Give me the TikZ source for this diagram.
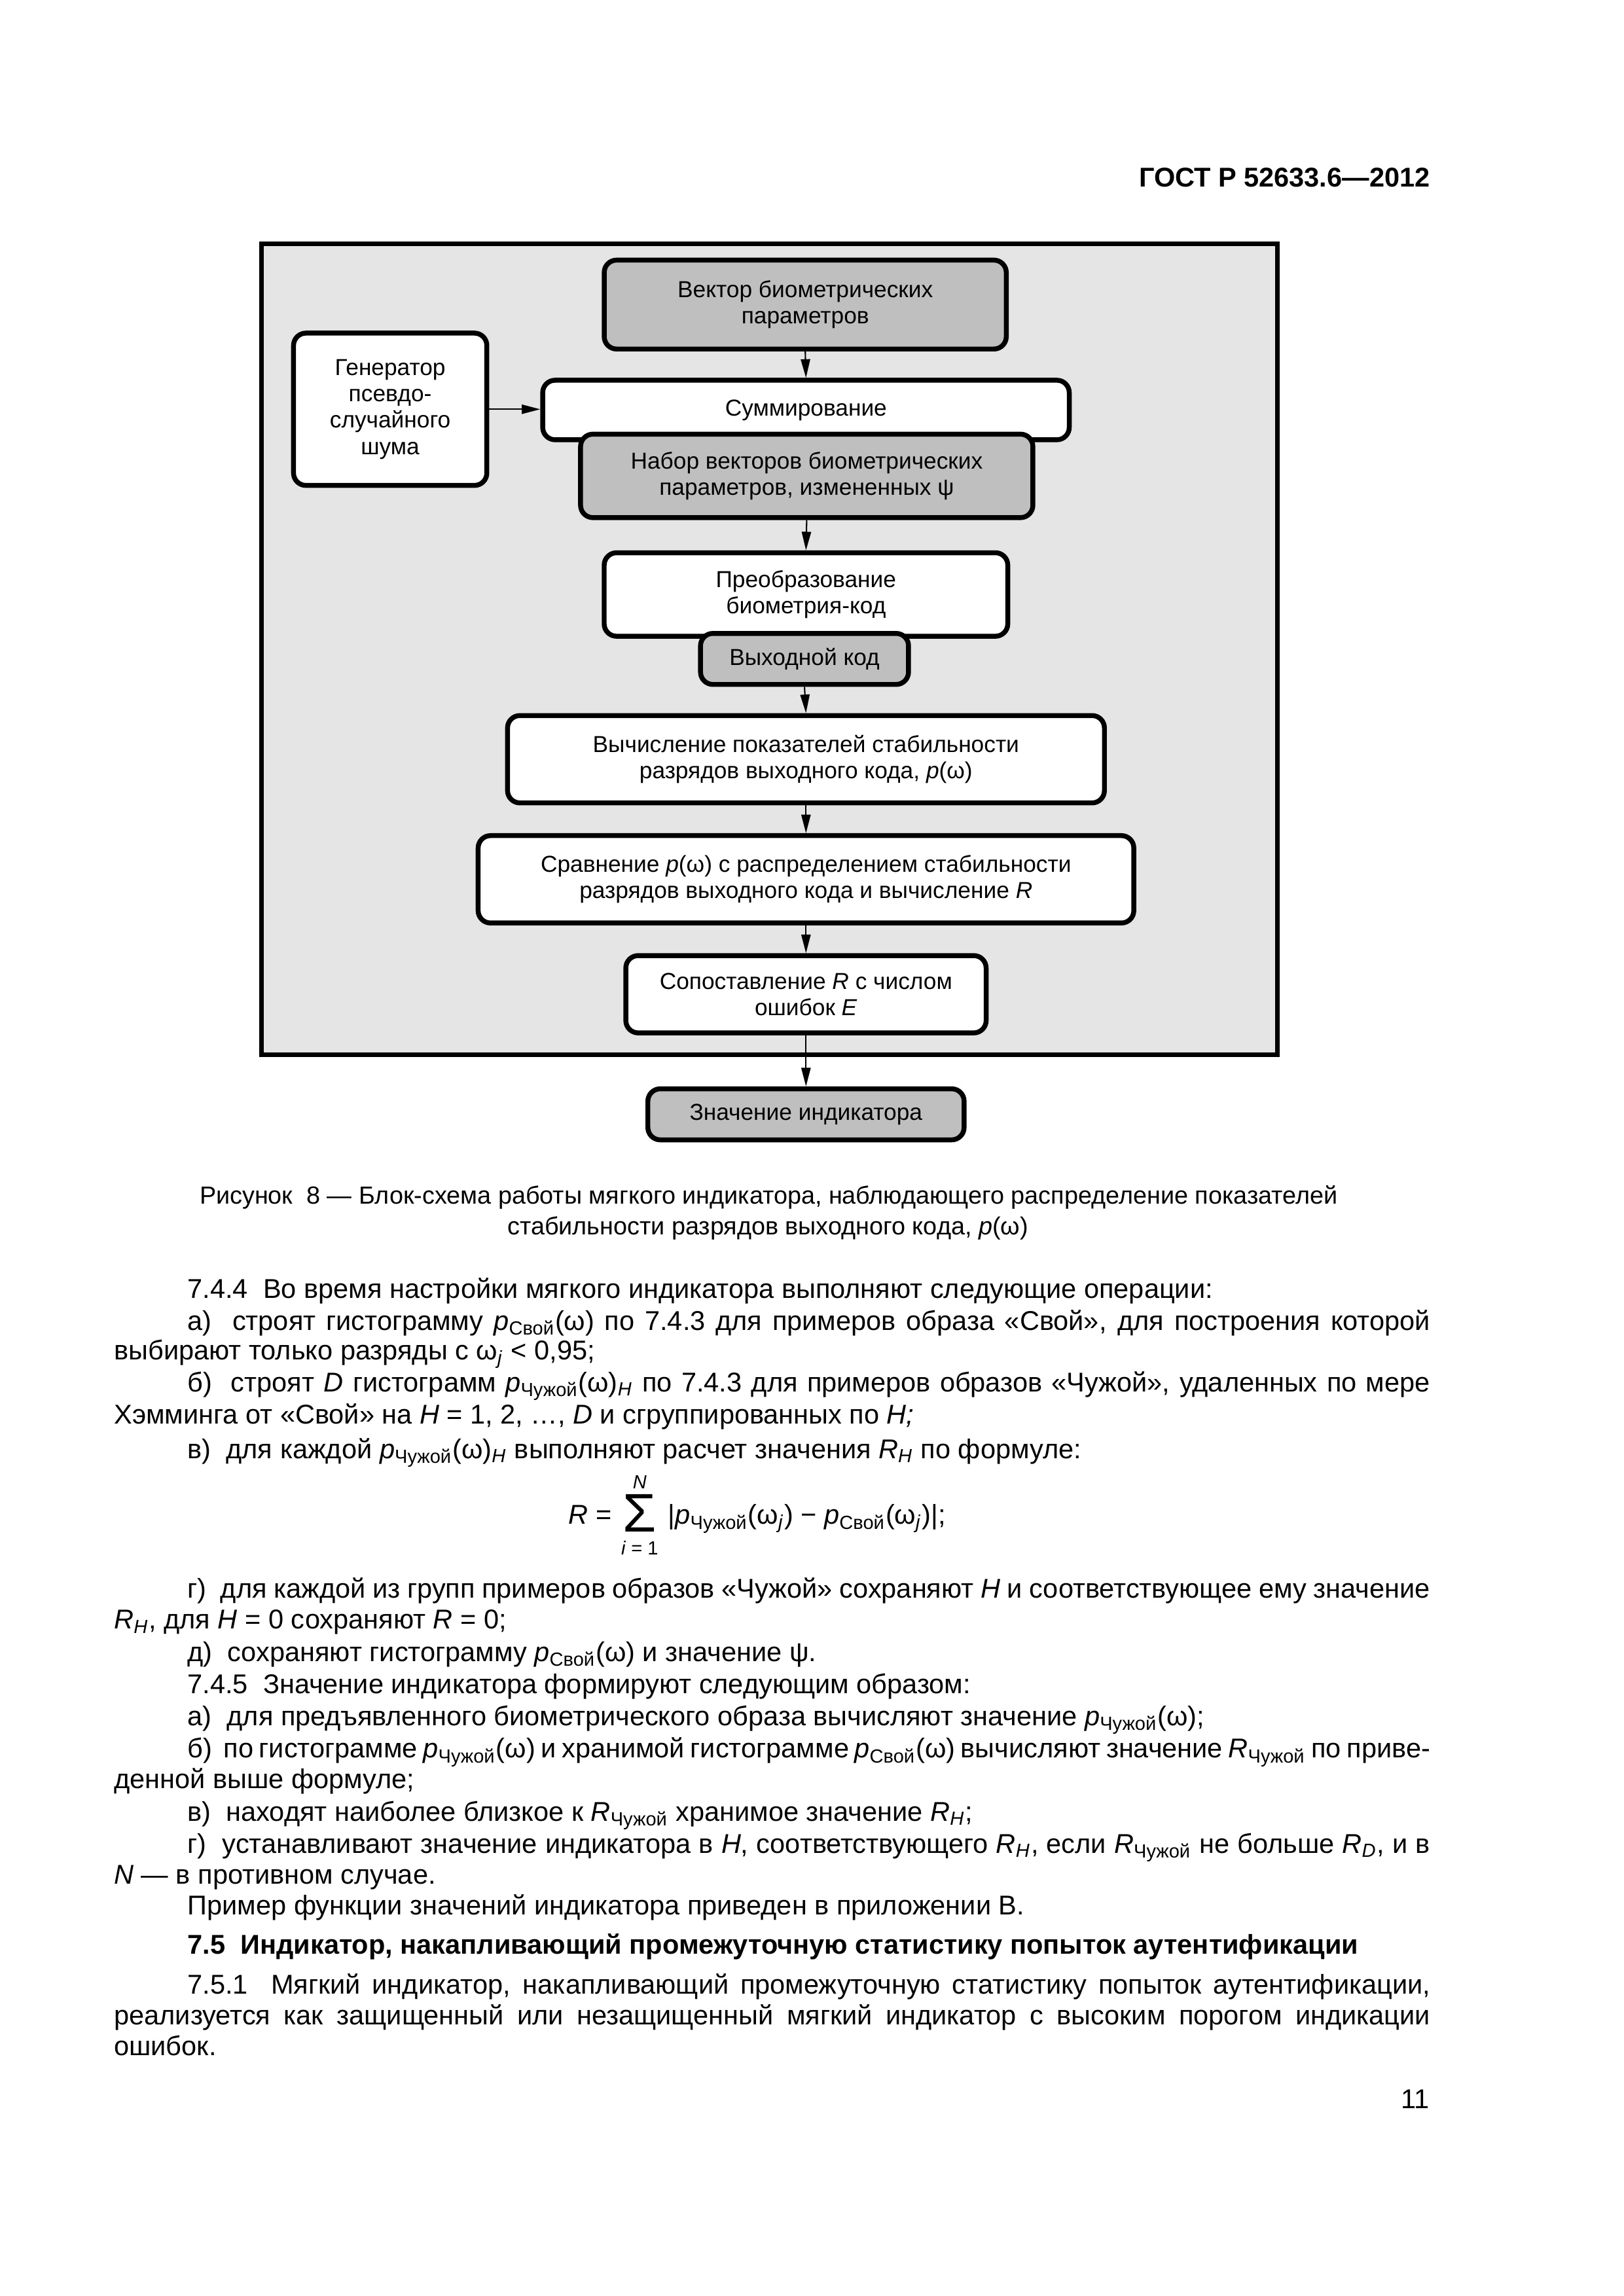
\documentclass[tikz,border=0pt]{standalone}
\usepackage{amsmath}
\usepackage{fontspec}
\setmainfont{Liberation Sans}
\usetikzlibrary{arrows.meta}

\newcommand{\pw}[1]{\textit{p}\textsubscript{#1}}
\newcommand{\Rw}[1]{\textit{R}\textsubscript{#1}}

\begin{document}
\begin{tikzpicture}[x=0.18936mm,y=0.18941mm]
            \tikzstyle{every node}+=[inner sep=0pt]
            \tikzstyle{blk}=[draw=black,line width=1.8pt,rounded corners=1.6mm,fill=white,align=center,font=\fontsize{8.5}{9.7}\selectfont]
            \tikzstyle{gblk}=[blk,fill=black!25]
            \tikzstyle{arr}=[black,line width=0.5pt,-{Triangle[length=2.4mm,width=1.2mm]}]
            \tikzstyle{txt}=[anchor=base west,font=\fontsize{10}{11.5}\selectfont]
            \tikzstyle{lim}=[anchor=base,font=\fontsize{7}{8}\selectfont]
            \path[fill=white] (0,0) rectangle (1109,-1568);
            \useasboundingbox (0,0) rectangle (1109,-1568);
            % header
            \node[anchor=base east,font=\bfseries\fontsize{10}{12}\selectfont] (gost) at (977,-127.5) {ГОСТ Р 52633.6—2012};
            % figure 8
            \draw[line width=1.8pt,fill=black!10] (178.6,-166.6) rectangle (872.4,-720.4);
            \node[gblk,minimum width=52mm,minimum height=11.5mm] (vec) at (550,-208) {Вектор биометрических\\параметров};
            \node[blk,minimum width=25mm,minimum height=19.7mm] (gen) at (266.5,-279.5) {Генератор\\псевдо-\\случайного\\шума};
            \node[blk,minimum width=68.1mm,minimum height=7.7mm] (sum) at (550.5,-280) {Суммирование};
            \node[gblk,minimum width=58.5mm,minimum height=10.8mm] (set) at (551,-325) {Набор векторов биометрических\\параметров, измененных ψ};
            \node[blk,minimum width=52.2mm,minimum height=10.8mm] (conv) at (550.5,-406) {Преобразование\\биометрия-код};
            \node[gblk,minimum width=26.9mm,minimum height=6.6mm] (code) at (549.5,-450) {Выходной код};
            \node[blk,minimum width=77.2mm,minimum height=11.3mm] (stab) at (550.5,-518.5) {Вычисление показателей стабильности\\разрядов выходного кода, \textit{p}(ω)};
            \node[blk,minimum width=84.8mm,minimum height=11.3mm] (cmp) at (550.5,-600.5) {Сравнение \textit{p}(ω) с распределением стабильности\\разрядов выходного кода и вычисление \textit{R}};
            \node[blk,minimum width=46.6mm,minimum height=10mm] (match) at (550.5,-679) {Сопоставление \textit{R} с числом\\ошибок \textit{E}};
            \node[gblk,minimum width=40.9mm,minimum height=6.6mm] (ind) at (550.5,-761) {Значение индикатора};
            \draw[arr] (vec.south) -- (sum.north);
            \draw[arr] (gen.east) -- (gen.east -| sum.west);
            \draw[arr] (set.south) -- (conv.north);
            \draw[arr] (code.south) -- (stab.north);
            \draw[arr] (stab.south) -- (cmp.north);
            \draw[arr] (cmp.south) -- (match.north);
            \draw[arr] (match.south) -- (ind.north);
            % caption
            \node[anchor=base,font=\fontsize{9.1}{10.9}\selectfont] (cap1) at (525,-822) {Рисунок\ \ 8 — Блок-схема работы мягкого индикатора, наблюдающего распределение показателей};
            \node[anchor=base,font=\fontsize{9.1}{10.9}\selectfont] (cap2) at (524.5,-843) {стабильности разрядов выходного кода, \textit{p}(ω)};
            % 7.4.4
            \node[txt] (l1) at (127.8,-886.5) {7.4.4\ \ Во время настройки мягкого индикатора выполняют следующие операции:};
            \node[txt] (l2) at (127.8,-908.5) {\makebox[160.7mm][s]{а)\ \ строят гистограмму \pw{Свой}(ω) по 7.4.3 для примеров образа «Свой», для построения которой}};
            \node[txt] (l3) at (77.6,-928.5) {выбирают только разряды с ω\textsubscript{\textit{j}} < 0,95;};
            \node[txt] (l4) at (127.8,-950.5) {\makebox[160.7mm][s]{б)\ \ строят \textit{D} гистограмм \pw{Чужой}(ω)\textsubscript{\textit{H}} по 7.4.3 для примеров образов «Чужой», удаленных по мере}};
            \node[txt] (l5) at (77.6,-972.5) {Хэмминга от «Свой» на \textit{H} = 1, 2, …, \textit{D} и сгруппированных по \textit{H;}};
            \node[txt] (l6) at (127.8,-996) {в)\ \ для каждой \pw{Чужой}(ω)\textsubscript{\textit{H}} выполняют расчет значения \Rw{\textit{H}} по формуле:};
            % formula
            \node[txt] (frmR) at (388,-1041) {\textit{R} =};
            \node[anchor=base,font=\fontsize{20}{20}\selectfont] (sig) at (437,-1046) {Σ};
            \node[lim] (sigN) at (437,-1016.5) {\textit{N}};
            \node[lim] (sigI) at (437,-1062) {\textit{i} = 1};
            \node[txt] (frm) at (456,-1041) {|\pw{Чужой}(ω\textsubscript{\textit{j}}) − \pw{Свой}(ω\textsubscript{\textit{j}})|;};
            \node[txt] (l7) at (127.8,-1091.5) {\makebox[160.7mm][s]{г)\ \ для каждой из групп примеров образов «Чужой» сохраняют \textit{H} и соответствующее ему значение}};
            \node[txt] (l8) at (77.6,-1112.5) {\Rw{\textit{H}}, для \textit{H} = 0 сохраняют \textit{R} = 0;};
            \node[txt] (l9) at (127.8,-1134.5) {д)\ \ сохраняют гистограмму \pw{Свой}(ω) и значение ψ.};
            % 7.4.5
            \node[txt] (l10) at (127.8,-1156.5) {7.4.5\ \ Значение индикатора формируют следующим образом:};
            \node[txt] (l11) at (127.8,-1178.5) {а)\ \ для предъявленного биометрического образа вычисляют значение \pw{Чужой}(ω);};
            \node[txt] (l12) at (127.8,-1200.5) {\makebox[160.7mm][s]{б)\ \ по гистограмме \pw{Чужой}(ω) и хранимой гистограмме \pw{Свой}(ω) вычисляют значение \Rw{Чужой} по приве-}};
            \node[txt] (l13) at (77.6,-1221.5) {денной выше формуле;};
            \node[txt] (l14) at (127.8,-1243.5) {в)\ \ находят наиболее близкое к \Rw{Чужой} хранимое значение \Rw{\textit{H}};};
            \node[txt] (l15) at (127.8,-1265.5) {\makebox[160.7mm][s]{г)\ \ устанавливают значение индикатора в \textit{H}, соответствующего \Rw{\textit{H}}, если \Rw{Чужой} не больше \Rw{\textit{D}}, и в}};
            \node[txt] (l16) at (77.6,-1286.5) {\textit{N} — в противном случае.};
            \node[txt] (l17) at (127.8,-1307.5) {Пример функции значений индикатора приведен в приложении В.};
            % 7.5
            \node[txt,font=\bfseries\fontsize{10}{11.5}\selectfont] (h75) at (127.8,-1334.5) {7.5\ \ Индикатор, накапливающий промежуточную статистику попыток аутентификации};
            \node[txt] (l18) at (127.8,-1361.5) {\makebox[160.7mm][s]{7.5.1\ \ Мягкий индикатор, накапливающий промежуточную статистику попыток аутентификации,}};
            \node[txt] (l19) at (77.6,-1382.5) {\makebox[170.2mm][s]{реализуется как защищенный или незащищенный мягкий индикатор с высоким порогом индикации}};
            \node[txt] (l20) at (77.6,-1403.5) {ошибок.};
            \node[anchor=base east,font=\fontsize{10}{12}\selectfont] (pg) at (976.5,-1440) {11};
        \end{tikzpicture}
\end{document}
